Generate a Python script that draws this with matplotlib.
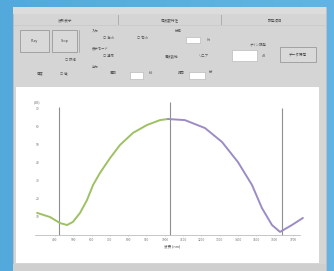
import matplotlib
matplotlib.use("Agg")
import matplotlib.pyplot as plt
from matplotlib.patches import Rectangle
import numpy as np

plt.rcParams['font.family'] = ['Noto Sans CJK JP', 'DejaVu Sans']

# ---- data ----
left_x = [-9.8, -2.7, 2.7, 6.6, 9.8, 13.7, 17.5, 20.8, 24.6, 30.1, 35.5, 42.6, 50.3, 57.4, 61.7]
left_y = [12.2, 9.9, 6.6, 5.5, 7.2, 12.2, 19.3, 27.6, 34.3, 42.5, 49.7, 56.4, 60.8, 63.5, 64.1]
right_x = [61.7, 71.0, 82.0, 91.3, 100.0, 107.7, 113.1, 118.6, 123.0, 129.5, 135.5]
right_y = [64.1, 63.5, 59.1, 51.4, 40.3, 27.6, 14.9, 5.5, 1.7, 5.5, 9.4]
marker_x = [2.2, 62.8, 124.0]
marker_top = [70.7, 73.5, 70.2]
x_ticks = list(range(0, 140, 10))
y_ticks = list(range(10, 80, 10))

W, H = 334, 271
fig = plt.figure(figsize=(W / 100, H / 100), dpi=100)

# ---- background / window chrome ----
bg = fig.add_axes([0, 0, 1, 1])
bg.set_xlim(0, W)
bg.set_ylim(H, 0)
bg.axis('off')
grad = np.linspace(0, 1, 256).reshape(1, -1)
bg.imshow(np.vstack([grad] * 4), extent=[0, W, H, 0], aspect='auto',
          cmap=matplotlib.colors.LinearSegmentedColormap.from_list('b', ['#54a9dc', '#62b4e4']))
bg.add_patch(Rectangle((13, 7), 313, 264, facecolor='#d5d5d5', edgecolor='#c0c0c0', lw=0.6))
bg.add_patch(Rectangle((13, 7), 313, 7, facecolor='#dcdcdc', edgecolor='none'))
for xs in (118, 221):
    bg.plot([xs, xs], [15, 24], color='#a8a8a8', lw=0.6)
bg.plot([14, 325], [24.5, 24.5], color='#c4c4c4', lw=0.4)
tabs = ["波形表示", "周波数特性", "設定項目"]
for tx, t in zip((65, 170, 275), tabs):
    bg.text(tx, 20, t, fontsize=2.6, ha='center', va='center', color='#555555')

def button(x0, y0, x1, y1, label):
    bg.add_patch(Rectangle((x0, y0), x1 - x0, y1 - y0, facecolor='#d9d9d9',
                           edgecolor='#9a9a9a', lw=0.6))
    bg.text((x0 + x1) / 2, (y0 + y1) / 2, label, fontsize=2.6, ha='center',
            va='center', color='#444444')

button(20, 30, 49, 52, "Play")
button(52, 30, 77, 52, "Stop")
button(280, 47, 316, 62, "データ保存")
bg.plot([79, 79], [30, 52], color='#a8a8a8', lw=0.6)

for (x0, y0, x1, y1) in [(186, 37, 200, 43), (232, 50, 257, 61), (130, 72, 143, 79), (189, 72, 205, 79)]:
    bg.add_patch(Rectangle((x0, y0), x1 - x0, y1 - y0, facecolor='white', edgecolor='#b0b0b0', lw=0.4))

labels = [(92, 31, "入力"), (103, 38, "○ 左ch"), (137, 38, "○ 右ch"), (175, 31, "分解"),
          (207, 40, "Hz"), (92, 48, "表示モード"), (103, 56, "○ 通常"), (165, 56, "周波数軸"),
          (198, 57, "リニア"), (250, 44, "ゲイン調整"), (262, 56, "dB"),
          (65, 60, "○ 詳細"), (37, 73, "感度"), (60, 73, "○ 低"), (92, 67, "出力"),
          (110, 73, "周期"), (149, 73, "秒"), (178, 73, "時間"), (209, 73, "分")]
for lx, ly, t in labels:
    bg.text(lx, ly, t, fontsize=2.4, ha='left', va='center', color='#555555')

bg.add_patch(Rectangle((13, 264), 313, 7, facecolor='#cfcfcf', edgecolor='none'))

# ---- chart ----
px0, py0, px1, py1 = 16, 87, 319, 263
ax = fig.add_axes([px0 / W, 1 - py1 / H, (px1 - px0) / W, (py1 - py0) / H])
ax.set_facecolor('white')
ax.set_xlim(-21.3, 144.3)
ax.set_ylim(-15.5, 81.8)
for s in ('top', 'right'):
    ax.spines[s].set_visible(False)
ax.spines['left'].set_visible(False)
ax.spines['left'].set_position(('data', -8.0))
ax.spines['bottom'].set_position(('data', 0))
ax.spines['bottom'].set_bounds(-10.9, 133.9)
ax.spines['bottom'].set_color('#bdbdbd')
ax.spines['bottom'].set_linewidth(0.6)
ax.set_xticks(x_ticks)
ax.set_xticklabels([str(v * 10 + 400) for v in x_ticks])
ax.set_yticks(y_ticks)
ax.set_yticklabels([str(v) for v in y_ticks])
ax.tick_params(axis='x', length=1, width=0.4, color='#bdbdbd', labelsize=2.4,
               labelcolor='#777777', pad=1)
ax.tick_params(axis='y', length=0, labelsize=2.4, labelcolor='#777777', pad=0.5)

ax.vlines(marker_x, 0, marker_top, colors='#8f8f8f', lw=0.8)
ax.plot(left_x, left_y, color='#9dc163', lw=1.4, solid_capstyle='round', solid_joinstyle='round')
ax.plot(right_x, right_y, color='#9d8cc4', lw=1.4, solid_capstyle='round', solid_joinstyle='round')
ax.text(-9.8, 73.5, "(dB)", fontsize=2.4, ha='center', va='center', color='#777777')
ax.text(64, -6.5, "波長 (nm)", fontsize=2.6, ha='center', va='center', color='#555555')

fig.savefig("out.png", dpi=100)
